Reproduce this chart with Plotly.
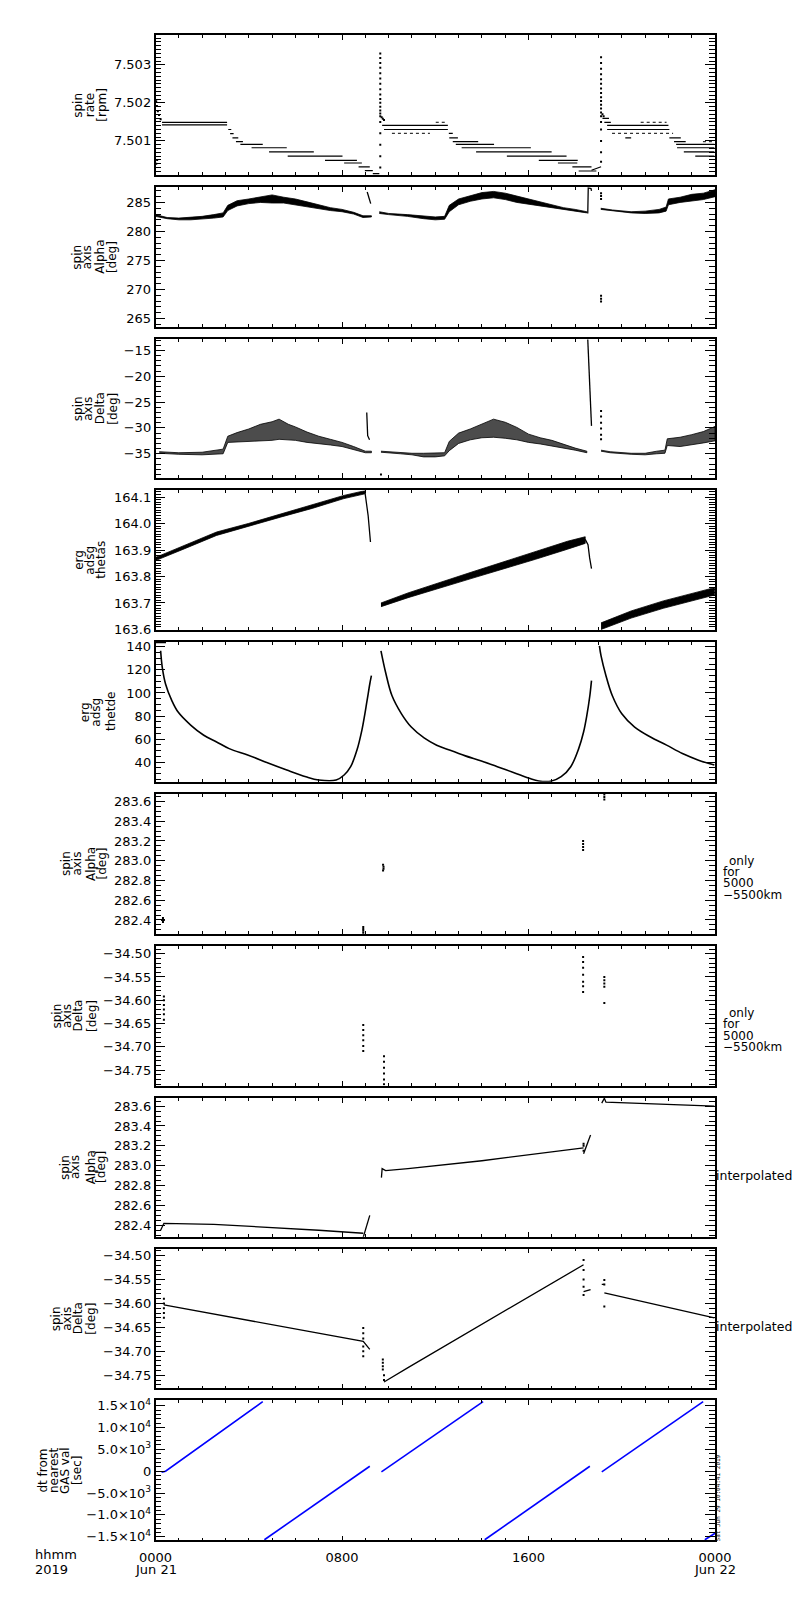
import plotly.graph_objects as go

# time axis: hours after 2019-06-21 00:00
X_TICK_VALS = [0, 8, 16, 24]
X_TICK_TEXT = ['0000', '0800', '1600', '0000']
X_DATE_HOURS = [0, 24]
X_DATE_TEXT = ['Jun 21', 'Jun 22']

# ---- panel 1: spin rate [rpm] (flat dashes: start hour, end hour, level)
P1_SEG_START = [0.28, 0.28, 3.12, 3.20, 3.30, 3.45, 3.64, 4.12, 4.87, 5.67, 7.27, 8.09, 8.71, 8.98, 9.32,
                9.72, 9.80, 12.58, 12.60, 12.75, 12.88, 13.13, 13.75, 15.07, 16.44, 17.26, 17.88, 18.15,
                19.17, 19.25, 19.37, 19.37, 20.15, 22.04, 22.24, 22.33, 22.37, 22.66, 23.15]
P1_SEG_END = [3.07, 3.07, 3.25, 3.35, 3.55, 3.75, 4.60, 5.63, 6.79, 8.02, 8.64, 8.85, 9.19, 9.32, 9.60,
              12.54, 12.54, 12.75, 12.97, 13.84, 14.52, 16.10, 16.99, 17.63, 18.11, 18.09, 18.70, 18.91,
              19.45, 19.53, 22.00, 22.04, 20.40, 22.53, 22.74, 23.97, 23.97, 23.97, 23.97]
P1_SEG_LEVEL = [7.50149, 7.50142, 7.50130, 7.50119, 7.50108, 7.50098, 7.50091, 7.50082, 7.50071, 7.50060,
                7.50049, 7.50042, 7.50032, 7.50022, 7.50014,
                7.50141, 7.50130, 7.50120, 7.50108, 7.50098, 7.50091, 7.50082, 7.50071, 7.50060, 7.50049,
                7.50042, 7.50032, 7.50021,
                7.50159, 7.50149, 7.50141, 7.50130, 7.50108, 7.50108, 7.50098, 7.50091, 7.50082, 7.50071,
                7.50060]
P1_DOT_START = [10.14, 12.02, 19.58, 20.81, 23.48]
P1_DOT_END = [11.77, 12.47, 22.20, 21.92, 23.97]
P1_DOT_LEVEL = [7.50120, 7.50149, 7.50120, 7.50149, 7.50098]
P1_RAMP_T = [18.70, 19.11]
P1_RAMP_V = [7.50023, 7.50032]
P1_PTS_T = [0.03, 0.06, 0.10, 0.15, 0.22, 0.03, 0.07,
            9.64, 9.64, 9.64, 9.64, 9.64, 9.64, 9.64, 9.64, 9.64, 9.64, 9.64, 9.64, 9.64, 9.64, 9.64,
            9.64, 9.64, 9.64, 9.64, 9.64, 9.70, 9.75, 9.80,
            19.11, 19.11, 19.11, 19.11, 19.11, 19.11, 19.11, 19.11, 19.11, 19.11, 19.11, 19.11, 19.11,
            19.11, 19.11, 19.11, 19.11, 19.11, 19.11, 19.17, 19.22]
P1_PTS_V = [7.50204, 7.50192, 7.50178, 7.50168, 7.50157, 7.50040, 7.50050,
            7.50330, 7.50318, 7.50305, 7.50292, 7.50278, 7.50264, 7.50250, 7.50236, 7.50222, 7.50210,
            7.50200, 7.50190, 7.50180, 7.50172, 7.50165, 7.50150, 7.50120, 7.50090, 7.50060, 7.50030,
            7.50162, 7.50158, 7.50155,
            7.50320, 7.50305, 7.50290, 7.50275, 7.50262, 7.50250, 7.50238, 7.50226, 7.50215, 7.50205,
            7.50195, 7.50185, 7.50175, 7.50165, 7.50150, 7.50130, 7.50100, 7.50070, 7.50045,
            7.50170, 7.50165]

# ---- panel 2: spin axis Alpha [deg], scatter band (low/high), None = data gap
P2_T = [0.0, 0.5, 1.0, 1.5, 2.0, 2.5, 2.9, 3.1, 3.5, 4.0, 4.5, 5.0, 5.5, 6.0, 6.5, 7.0, 7.5, 8.0, 8.5, 8.9, 9.26, None,
        9.6, 10.0, 10.8, 11.5, 12.0, 12.4, 12.6, 13.0, 13.5, 14.0, 14.5, 15.0, 15.5, 16.0, 16.5, 17.0, 17.5, 18.0, 18.5, None,
        19.1, 19.6, 20.4, 21.0, 21.6, 21.9, 22.0, 22.5, 23.0, 23.5, 24.0]
P2_LO = [282.6, 282.2, 282.0, 282.0, 282.1, 282.3, 282.5, 283.6, 284.4, 284.8, 285.0, 284.9, 284.9, 284.6, 284.2,
         283.9, 283.6, 283.4, 283.0, 282.4, 282.5, None,
         283.1, 282.9, 282.6, 282.2, 282.0, 282.1, 283.4, 284.6, 285.2, 285.6, 285.8, 285.5, 285.0, 284.7, 284.4,
         284.0, 283.7, 283.5, 283.2, None,
         283.8, 283.5, 283.2, 283.1, 283.2, 283.5, 284.6, 285.0, 285.3, 285.5, 286.0]
P2_HI = [282.9, 282.4, 282.3, 282.4, 282.6, 282.9, 283.2, 284.5, 285.3, 285.6, 285.9, 286.3, 285.9, 285.6, 285.1,
         284.6, 284.1, 283.8, 283.3, 282.7, 282.7, None,
         283.4, 283.1, 282.9, 282.6, 282.5, 282.6, 284.5, 285.6, 286.2, 286.7, 286.9, 286.6, 286.1, 285.6, 285.1,
         284.6, 284.1, 283.8, 283.4, None,
         284.0, 283.7, 283.4, 283.5, 283.8, 284.2, 285.6, 285.9, 286.4, 286.6, 287.2]
P2_LINE_T = [9.08, 9.23, None, 18.54, 18.56, 18.68, 18.70]
P2_LINE_V = [286.8, 284.8, None, 283.1, 287.5, 287.4, 287.0]
P2_PTS_T = [19.11, 19.11, 19.11, 19.11, 19.11, 19.11]
P2_PTS_V = [286.6, 286.1, 285.6, 268.9, 268.4, 267.9]

# ---- panel 3: spin axis Delta [deg]
P3_T = [0.16, 1.0, 2.0, 2.9, 3.1, 3.5, 4.0, 4.5, 5.0, 5.3, 5.7, 6.0, 6.5, 7.0, 7.5, 8.0, 8.5, 9.0, 9.26, None,
        9.67, 10.5, 11.0, 11.5, 12.0, 12.4, 12.6, 13.0, 13.5, 14.0, 14.5, 15.0, 15.5, 16.0, 16.5, 17.0, 17.5, 18.0, 18.5, None,
        19.11, 19.5, 20.4, 21.0, 21.5, 21.85, 21.95, 22.5, 23.0, 23.5, 24.0]
P3_LO = [-34.9, -35.1, -35.2, -35.0, -32.8, -32.6, -32.5, -32.5, -32.4, -32.2, -32.3, -32.4, -32.8, -33.1, -33.3,
         -33.6, -34.2, -34.8, -34.8, None,
         -34.7, -35.0, -35.2, -35.6, -35.6, -35.4, -34.4, -33.0, -32.3, -31.9, -31.8, -32.0, -32.3, -32.8, -33.1,
         -33.4, -33.9, -34.3, -34.8, None,
         -34.5, -34.8, -35.1, -35.2, -35.0, -34.9, -33.4, -33.6, -33.3, -32.9, -32.5]
P3_HI = [-34.6, -34.8, -34.7, -34.1, -31.6, -30.9, -30.2, -29.3, -28.8, -28.3, -29.3, -29.8, -30.8, -31.6, -32.2,
         -32.8, -33.6, -34.5, -34.5, None,
         -34.5, -34.8, -34.9, -34.9, -34.9, -34.8, -32.6, -31.0, -30.2, -29.2, -28.3, -28.9, -29.9, -31.2, -31.9,
         -32.4, -33.2, -33.9, -34.5, None,
         -34.3, -34.6, -34.9, -34.9, -34.5, -34.3, -32.1, -31.8, -31.3, -30.7, -29.7]
P3_LINE_T = [9.06, 9.10, 9.18, None, 18.54, 18.56, 18.60, 18.65, 18.70]
P3_LINE_V = [-27.0, -31.5, -32.3, None, -12.9, -15.0, -22.2, -27.0, -29.6]
P3_PTS_T = [9.67, 19.11, 19.11, 19.11, 19.11, 19.11, 19.11]
P3_PTS_V = [-39.0, -26.7, -27.8, -29.0, -30.1, -31.3, -32.2]

# ---- panel 4: erg adsg thetas
P4_T = [0.0, 1.25, 2.62, 3.98, 5.36, 6.72, 8.08, 8.98, None,
        9.67, 10.83, 13.57, 16.3, 17.67, 18.43, None,
        19.11, 20.40, 21.78, 23.97]
P4_LO = [163.860, 163.905, 163.955, 163.988, 164.024, 164.057, 164.094, 164.112, None,
         163.686, 163.720, 163.793, 163.865, 163.903, 163.925, None,
         163.600, 163.643, 163.680, 163.730]
P4_HI = [163.872, 163.918, 163.968, 164.000, 164.036, 164.069, 164.106, 164.124, None,
         163.700, 163.738, 163.817, 163.895, 163.933, 163.950, None,
         163.625, 163.670, 163.708, 163.758]
P4_LINE_T = [8.98, 9.05, 9.12, 9.22, None, 18.43, 18.55, 18.62, 18.70]
P4_LINE_V = [164.120, 164.080, 164.030, 163.930, None, 163.940, 163.920, 163.870, 163.830]

# ---- panel 5: erg adsg thetde
P5_T = [0.0, 0.45, None,
        0.22, 0.29, 0.43, 0.70, 0.97, 1.52, 2.07, 2.62, 3.16, 3.98, 4.80, 5.63, 6.45, 7.0, 7.75, 8.09, 8.37,
        8.64, 8.85, 8.98, 9.05, 9.12, 9.19, 9.26, None,
        9.67, 9.87, 10.14, 10.55, 10.97, 11.52, 12.06, 12.61, 13.29, 13.98, 14.66, 15.35, 16.03, 16.44, 16.99,
        17.40, 17.81, 18.15, 18.36, 18.50, 18.63, 18.70, None,
        19.04, 19.11, 19.32, 19.59, 20.0, 20.55, 21.23, 21.92, 22.60, 23.29, 23.97]
P5_V = [143.8, 143.8, None,
        136.6, 122.2, 107.8, 93.4, 83.4, 71.9, 63.3, 57.5, 51.7, 46.0, 39.4, 33.1, 27.3, 24.5, 24.5, 28.8, 36.0,
        50.4, 67.6, 81.9, 90.5, 99.1, 107.8, 115.0, None,
        136.6, 117.8, 97.8, 81.9, 70.4, 61.0, 54.7, 50.4, 45.4, 40.9, 36.0, 31.0, 25.9, 23.6, 23.6,
        27.3, 36.0, 51.7, 66.1, 80.5, 97.8, 110.7, None,
        140.9, 132.2, 115.0, 97.8, 81.9, 70.4, 61.8, 54.7, 47.4, 41.7, 37.4]

# ---- panel 6: spin axis Alpha, only for 5000-5500 km (isolated points)
P6_T = [0.28, 0.32, 0.36, 0.32, 0.32, 8.91, 8.91, 8.91, 8.91, 9.76, 9.78, 9.78, 9.76,
        18.34, 18.34, 18.34, 18.34, 19.25, 19.25, 19.25]
P6_V = [282.40, 282.40, 282.40, 282.38, 282.42, 282.27, 282.29, 282.31, 282.33, 282.90, 282.92, 282.94, 282.96,
        283.11, 283.14, 283.17, 283.20, 283.62, 283.645, 283.67]

# ---- panel 7: spin axis Delta, only for 5000-5500 km
P7_T = [0.36, 0.36, 0.36, 0.36, 0.36, 0.36, 8.91, 8.91, 8.91, 8.91, 8.91, 8.91,
        9.80, 9.80, 9.80, 9.80, 9.80, 9.80, 18.34, 18.34, 18.34, 18.34, 18.34, 18.34, 18.34,
        19.25, 19.25, 19.25, 19.25, 19.25]
P7_V = [-34.592, -34.600, -34.610, -34.620, -34.630, -34.642, -34.653, -34.664, -34.675, -34.686, -34.698, -34.709,
        -34.720, -34.732, -34.745, -34.757, -34.770, -34.780, -34.507, -34.518, -34.530, -34.545, -34.560, -34.570,
        -34.582, -34.550, -34.557, -34.564, -34.571, -34.606]

# ---- panel 8: spin axis Alpha, interpolated
P8_T = [0.22, 0.30, 0.36, 2.5, 5.0, 7.0, 8.91, None, 8.91, 9.19, None,
        9.69, 9.72, 9.87, 10.83, 14.0, 16.0, 18.36, None, 18.36, 18.66, None,
        19.14, 19.25, 19.32, 20.41, 22.46, 23.97]
P8_V = [282.35, 282.40, 282.42, 282.41, 282.38, 282.35, 282.32, None, 282.28, 282.50, None,
        282.88, 282.97, 282.95, 282.97, 283.05, 283.11, 283.18, None, 283.12, 283.31, None,
        283.63, 283.68, 283.64, 283.63, 283.61, 283.60]
P8_PTS_T = [18.36, 18.36, 18.36]
P8_PTS_V = [283.22, 283.20, 283.15]

# ---- panel 9: spin axis Delta, interpolated
P9_T = [0.36, 8.91, 9.19, None, 9.80, 10.83, 18.36, None, 18.36, 18.66, None,
        19.14, 19.25, None, 19.25, 23.97]
P9_V = [-34.603, -34.679, -34.696, None, -34.764, -34.734, -34.519, None, -34.575, -34.571, None,
        -34.560, -34.560, None, -34.578, -34.630]
P9_PTS_T = [0.36, 0.36, 0.36, 0.36, 0.36, 8.91, 8.91, 8.91, 8.91, 8.91, 8.91,
            9.75, 9.75, 9.75, 9.75, 9.80, 9.80, 18.36, 18.36, 18.36, 18.36, 18.36, 19.25, 19.25, 19.25]
P9_PTS_V = [-34.590, -34.600, -34.610, -34.620, -34.630, -34.651, -34.662, -34.673, -34.690, -34.700, -34.710,
            -34.717, -34.724, -34.731, -34.738, -34.750, -34.760, -34.509, -34.530, -34.550, -34.565, -34.582,
            -34.551, -34.560, -34.606]

# ---- panel 10: dt from nearest GAS val [sec]
P10_T = [0.26, 0.43, 4.60, None, 4.67, 9.19, None, 9.69, 14.05, None, 14.12, 18.63, None,
         19.14, 23.49, None, 23.56, 24.0]
P10_V = [-250, 0, 15900, None, -15690, 1130, None, -150, 15900, None, -15690, 1130, None,
         -150, 15900, None, -15690, -14200]
P10_TICK_VALS = [15000, 10000, 5000, 0, -5000, -10000, -15000]
P10_TICK_TEXT = ['1.5×10<sup>4</sup>', '1.0×10<sup>4</sup>', '5.0×10<sup>3</sup>', '0',
                 '−5.0×10<sup>3</sup>', '−1.0×10<sup>4</sup>', '−1.5×10<sup>4</sup>']

# ---------------------------------------------------------------- layout
W, H = 800, 1600
PLOT_X0, PLOT_X1 = 136.3, 720.7
PANEL_TOP = [23.3, 176.0, 329.3, 481.7, 634.3, 787.3, 940.7, 1093.3, 1245.3, 1398.0]
PANEL_BOT = [164.3, 317.3, 469.3, 622.3, 775.0, 928.3, 1081.0, 1233.3, 1386.0, 1539.0]

# y axis settings per panel: range, tick0, dtick, minor dtick, format
Y_AXES = [
    dict(range=[7.50010, 7.50378], tick0=7.501, dtick=0.001, minor=0.0001, fmt='.3f'),
    dict(range=[263.5, 287.7], tick0=265, dtick=5, minor=1, fmt='d'),
    dict(range=[-39.7, -12.8], tick0=-35, dtick=5, minor=1, fmt='d'),
    dict(range=[163.598, 164.125], tick0=163.7, dtick=0.1, minor=0.01, fmt='.1f'),
    dict(range=[23.0, 144.3], tick0=40, dtick=20, minor=5, fmt='d'),
    dict(range=[282.259, 283.677], tick0=282.4, dtick=0.2, minor=0.05, fmt='.1f'),
    dict(range=[-34.783, -34.484], tick0=-34.75, dtick=0.05, minor=0.01, fmt='.2f'),
    dict(range=[282.284, 283.684], tick0=282.4, dtick=0.2, minor=0.05, fmt='.1f'),
    dict(range=[-34.7776, -34.4855], tick0=-34.75, dtick=0.05, minor=0.01, fmt='.2f'),
    dict(range=[-15840, 16200], tick0=0, dtick=5000, minor=1000, fmt=''),
]

LEFT_LABELS = [
    (['spin', 'rate', '[rpm]'], [56, 68, 81]),
    (['spin', 'axis', 'Alpha', '[deg]'], [54, 65, 78, 91]),
    (['spin', 'axis', 'Delta', '[deg]'], [55, 65, 78, 91]),
    (['erg', 'adsg', 'thetas'], [57, 68.5, 80]),
    (['erg', 'adsg', 'thetde'], [62, 74, 90]),
    (['spin', 'axis', 'Alpha', '[deg]'], [43, 54, 69, 80]),
    (['spin', 'axis', 'Delta', '[deg]'], [33, 44, 55, 70]),
    (['spin', 'axis', 'Alpha', '[deg]'], [42.5, 53, 69, 80]),
    (['spin', 'axis', 'Delta', '[deg]'], [32, 43, 55, 69]),
    (['dt from', 'nearest', 'GAS val', '[sec]'], [19, 31, 42.5, 55]),
]

FONT = 'DejaVu Sans'
BLACK = 'black'
BLUE = 'rgb(0,0,255)'


def ax_names(i):
    n = '' if i == 0 else str(i + 1)
    return 'x' + n, 'y' + n, 'xaxis' + n, 'yaxis' + n


def flat_segments(t0, t1, lev):
    xs, ys = [], []
    for a, b, v in zip(t0, t1, lev):
        xs += [a, b, None]
        ys += [v, v, None]
    return xs, ys


def band_polygon(t, lo, hi):
    # close each gap-separated piece of a low/high band into a polygon
    xs, ys, piece = [], [], []
    for i in range(len(t) + 1):
        if i == len(t) or t[i] is None:
            if piece:
                xs += [t[j] for j in piece] + [t[j] for j in reversed(piece)] + [None]
                ys += [hi[j] for j in piece] + [lo[j] for j in reversed(piece)] + [None]
            piece = []
        else:
            piece.append(i)
    return xs, ys


fig = go.Figure()


def add_line(i, x, y, color=BLACK, width=1.3, dash='solid', shape='linear'):
    xa, ya, _, _ = ax_names(i)
    fig.add_trace(go.Scatter(x=x, y=y, mode='lines', xaxis=xa, yaxis=ya,
                             line=dict(color=color, width=width, dash=dash, shape=shape),
                             connectgaps=False, hoverinfo='skip'))


def add_points(i, x, y, size=2):
    xa, ya, _, _ = ax_names(i)
    fig.add_trace(go.Scatter(x=x, y=y, mode='markers', xaxis=xa, yaxis=ya,
                             marker=dict(color=BLACK, size=size, symbol='square', line=dict(width=0)),
                             hoverinfo='skip'))


def add_band(i, t, lo, hi, fill='black', edge=0.8):
    xa, ya, _, _ = ax_names(i)
    bx, by = band_polygon(t, lo, hi)
    fig.add_trace(go.Scatter(x=bx, y=by, mode='lines', fill='toself', fillcolor=fill,
                             xaxis=xa, yaxis=ya, line=dict(color=BLACK, width=edge),
                             hoverinfo='skip'))


# panel 1
sx, sy = flat_segments(P1_SEG_START, P1_SEG_END, P1_SEG_LEVEL)
add_line(0, sx, sy, width=1.2)
dx, dy = flat_segments(P1_DOT_START, P1_DOT_END, P1_DOT_LEVEL)
add_line(0, dx, dy, width=1.0, dash='dot')
add_line(0, P1_RAMP_T, P1_RAMP_V, width=1.2)
add_points(0, P1_PTS_T, P1_PTS_V)
# panel 2
add_band(1, P2_T, P2_LO, P2_HI)
add_line(1, P2_LINE_T, P2_LINE_V)
add_points(1, P2_PTS_T, P2_PTS_V)
# panel 3
add_band(2, P3_T, P3_LO, P3_HI, fill='rgba(0,0,0,0.7)')
add_line(2, P3_LINE_T, P3_LINE_V)
add_points(2, P3_PTS_T, P3_PTS_V)
# panel 4
add_band(3, P4_T, P4_LO, P4_HI)
add_line(3, P4_LINE_T, P4_LINE_V)
# panel 5
add_line(4, P5_T, P5_V, width=1.6, shape='spline')
# panel 6, 7
add_points(5, P6_T, P6_V)
add_points(6, P7_T, P7_V)
# panel 8, 9
add_line(7, P8_T, P8_V)
add_points(7, P8_PTS_T, P8_PTS_V)
add_line(8, P9_T, P9_V)
add_points(8, P9_PTS_T, P9_PTS_V)
# panel 10
add_line(9, P10_T, P10_V, color=BLUE, width=1.6)

layout = dict(width=W, height=H, margin=dict(l=0, r=0, t=0, b=0), showlegend=False,
              paper_bgcolor='white', plot_bgcolor='white',
              font=dict(family=FONT, size=13, color=BLACK))

annotations = []
for i in range(10):
    xa, ya, xk, yk = ax_names(i)
    last = (i == 9)
    layout[xk] = dict(
        domain=[PLOT_X0 / W, PLOT_X1 / W], anchor=ya, range=[0, 24],
        tickmode='array', tickvals=X_TICK_VALS, ticktext=X_TICK_TEXT,
        showticklabels=last, ticks='inside', ticklen=5, tickwidth=1, tickcolor=BLACK,
        ticklabelstandoff=4,
        minor=dict(tickmode='linear', tick0=0, dtick=1, ticks='inside', ticklen=3,
                   tickwidth=1, tickcolor=BLACK),
        showline=True, linecolor=BLACK, linewidth=1.5, mirror='ticks',
        showgrid=False, zeroline=False, fixedrange=True,
        tickfont=dict(family=FONT, size=13, color=BLACK),
    )
    cfg = Y_AXES[i]
    yd = dict(
        domain=[1 - PANEL_BOT[i] / H, 1 - PANEL_TOP[i] / H], anchor=xa, range=cfg['range'],
        ticks='inside', ticklen=10, tickwidth=1, tickcolor=BLACK,
        minor=dict(tickmode='linear', tick0=cfg['tick0'], dtick=cfg['minor'], ticks='inside',
                   ticklen=6, tickwidth=1, tickcolor=BLACK),
        showline=True, linecolor=BLACK, linewidth=1.5, mirror='ticks',
        showgrid=False, zeroline=False, fixedrange=True,
        tickfont=dict(family=FONT, size=13, color=BLACK),
    )
    if last:
        yd.update(tickmode='array', tickvals=P10_TICK_VALS, ticktext=P10_TICK_TEXT)
    else:
        yd.update(tickmode='linear', tick0=cfg['tick0'], dtick=cfg['dtick'], tickformat=cfg['fmt'])
    layout[yk] = yd

    # rotated left-hand labels, one annotation per line
    ymid = 1 - (PANEL_TOP[i] + PANEL_BOT[i]) / 2 / H
    for text, xc in zip(*LEFT_LABELS[i]):
        annotations.append(dict(text=text, x=xc / W, y=ymid, xref='paper', yref='paper',
                                xanchor='center', yanchor='middle', textangle=-90, showarrow=False,
                                font=dict(family=FONT, size=12, color=BLACK)))

# date line under the first and last hour ticks
for hr, text in zip(X_DATE_HOURS, X_DATE_TEXT):
    annotations.append(dict(text=text, x=hr, y=1 - 1568 / H, xref='x10', yref='paper',
                            xanchor='center', yanchor='middle', showarrow=False,
                            font=dict(family=FONT, size=13, color=BLACK)))

# right-hand notes
for i in (5, 6):
    for k, (text, xl) in enumerate(zip(['only', 'for', '5000', '−5500km'], [733, 727, 727, 727])):
        annotations.append(dict(text=text, x=xl / W, y=1 - (PANEL_TOP[i] + 67.5 + 11.3 * k) / H,
                                xref='paper', yref='paper', xanchor='left', yanchor='middle',
                                showarrow=False, font=dict(family=FONT, size=12, color=BLACK)))
for i in (7, 8):
    annotations.append(dict(text='interpolated', x=719.5 / W, y=1 - (PANEL_TOP[i] + 78.5) / H,
                            xref='paper', yref='paper', xanchor='left', yanchor='middle',
                            showarrow=False, font=dict(family=FONT, size=12.5, color=BLACK)))

# time stamp along the right edge of the last panel
annotations.append(dict(text='Sat Jun 29 10:04:41 2019', x=723.5 / W, y=1 - 1496 / H,
                        xref='paper', yref='paper', xanchor='center', yanchor='middle',
                        textangle=-90, showarrow=False,
                        font=dict(family='DejaVu Sans Mono', size=6, color=BLACK)))
# x-axis caption
for text, yc in (('hhmm', 1553), ('2019', 1568)):
    annotations.append(dict(text=text, x=8 / W, y=1 - yc / H, xref='paper', yref='paper',
                            xanchor='left', yanchor='middle', showarrow=False,
                            font=dict(family=FONT, size=13, color=BLACK)))

layout['annotations'] = annotations
fig.update_layout(**layout)

fig.write_html('out.html')
